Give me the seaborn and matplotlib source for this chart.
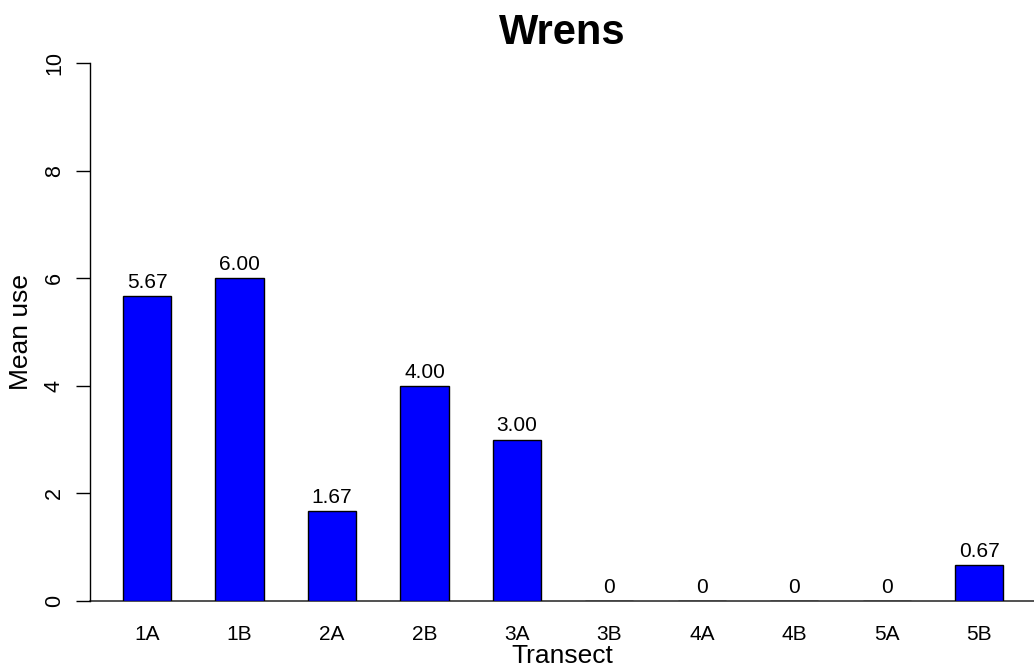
"""Barplot de uso medio por transecto (Wrens)."""

import matplotlib

matplotlib.use("Agg")

import matplotlib.pyplot as plt
import pandas as pd
import seaborn as sns

transects = ["1A", "1B", "2A", "2B", "3A", "3B", "4A", "4B", "5A", "5B"]
mean_use = [5.67, 6.00, 1.67, 4.00, 3.00, 0, 0, 0, 0, 0.67]
bar_labels = ["5.67", "6.00", "1.67", "4.00", "3.00", "0", "0", "0", "0", "0.67"]
y_ticks = [0, 2, 4, 6, 8, 10]

sns.set_style("white")
plt.rcParams["font.family"] = ["Liberation Sans", "DejaVu Sans"]
plt.rcParams.update({
    "text.color": "black",
    "axes.labelcolor": "black",
    "xtick.color": "black",
    "ytick.color": "black",
})

df = pd.DataFrame({"transect": transects, "mean_use": mean_use})

fig = plt.figure(figsize=(10.34, 6.7), dpi=100)
ax = fig.add_axes([90 / 1034, 69 / 670, 944 / 1034, 538 / 670])

sns.barplot(data=df, x="transect", y="mean_use", color="#0000ff", saturation=1,
            width=0.52, edgecolor="black", linewidth=1, ax=ax)
ax.bar_label(ax.containers[0], labels=bar_labels, padding=3, fontsize=15)

ax.axhline(0, color="#333333", linewidth=1.2, clip_on=False, zorder=0.5)
ax.set_xlim(-0.616, 9.59)
ax.set_ylim(0, 10)
ax.set_yticks(y_ticks)
ax.set_yticklabels([str(t) for t in y_ticks], rotation=90, va="center")
ax.tick_params(axis="y", length=10, width=1, direction="out", left=True,
               pad=8, labelsize=15.5)
ax.tick_params(axis="x", length=0, labelsize=15, pad=17)

for side in ["top", "right", "bottom"]:
    ax.spines[side].set_visible(False)
ax.spines["left"].set_color("black")
ax.spines["left"].set_linewidth(1)

ax.set_xlabel("Transect", fontsize=19, labelpad=0)
ax.set_ylabel("Mean use", fontsize=19, labelpad=8)
ax.set_title("Wrens", fontsize=30, fontweight="bold", pad=14)

fig.savefig("out.png", dpi=100)
plt.close(fig)
